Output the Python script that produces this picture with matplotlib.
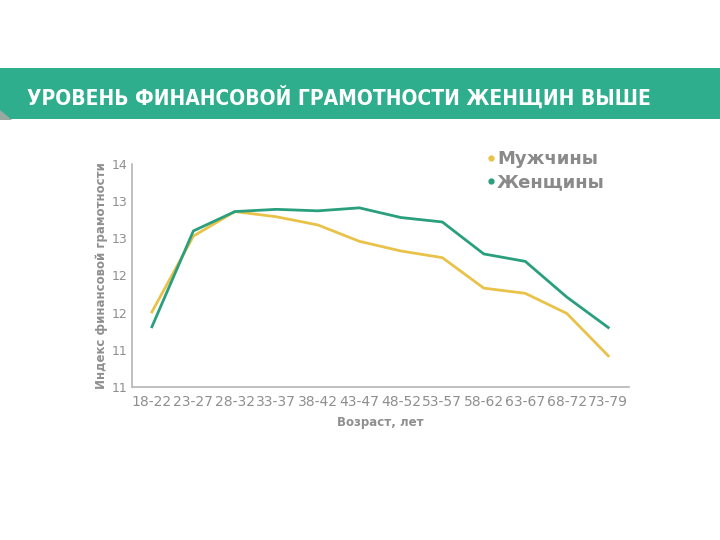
import matplotlib
matplotlib.use("Agg")
import matplotlib.pyplot as plt
from matplotlib.patches import Rectangle, Polygon
from matplotlib.lines import Line2D

# data
age_groups = ['18-22', '23-27', '28-32', '33-37', '38-42', '43-47',
              '48-52', '53-57', '58-62', '63-67', '68-72', '73-79']
men = [12.01, 13.03, 13.36, 13.29, 13.18, 12.96,
       12.83, 12.74, 12.33, 12.26, 11.99, 11.42]
women = [11.81, 13.10, 13.36, 13.39, 13.37, 13.41,
         13.28, 13.22, 12.79, 12.69, 12.21, 11.80]
y_ticks = [11, 11.5, 12, 12.5, 13, 13.5, 14]
y_tick_labels = ['11', '11', '12', '12', '13', '13', '14']

title = 'УРОВЕНЬ ФИНАНСОВОЙ ГРАМОТНОСТИ ЖЕНЩИН ВЫШЕ'
grey = '#8f8f8f'
c_men = '#e9c24a'
c_women = '#2a9f7d'

fig = plt.figure(figsize=(7.2, 5.4), dpi=100)
W, H = 720, 540

# green banner with the title
fig.patches.append(Rectangle((0, 1 - 119 / H), 1, 51 / H, transform=fig.transFigure,
                             facecolor='#2eae8c', edgecolor='none'))
fig.patches.append(Polygon([(0, 1 - 110 / H), (12 / W, 1 - 120 / H), (0, 1 - 120 / H)],
                           closed=True, transform=fig.transFigure,
                           facecolor='#9aa8a2', edgecolor='none'))
ttl = fig.text(27 / W, 1 - 97 / H, title, color='white', fontsize=16, fontweight='bold',
               fontstretch='condensed', va='center', ha='left')
# shrink the title so it spans the same width as in the reference (27..652 px)
r = fig.canvas.get_renderer()
w = ttl.get_window_extent(r).width
ttl.set_fontsize(min(17, 16 * 625 / w))

ax = fig.add_axes([132 / W, 1 - 387 / H, (629 - 132) / W, (387 - 164) / H])
x = list(range(len(age_groups)))
ax.plot(x, men, color=c_men, lw=2.0, solid_joinstyle='round')
ax.plot(x, women, color=c_women, lw=2.0, solid_joinstyle='round')

ax.set_xlim(-0.48, 11.5)
ax.set_ylim(11, 14)
ax.set_xticks(x)
ax.set_xticklabels(age_groups)
ax.set_yticks(y_ticks)
ax.set_yticklabels(y_tick_labels)
ax.tick_params(length=0, labelcolor=grey)
ax.tick_params(axis='x', pad=6, labelsize=10)
ax.tick_params(axis='y', pad=3, labelsize=9)
for s in ['top', 'right']:
    ax.spines[s].set_visible(False)
for s in ['left', 'bottom']:
    ax.spines[s].set_color('#b5b5b5')
    ax.spines[s].set_linewidth(1.2)

ax.set_xlabel('Возраст, лет', color=grey, fontsize=8.5, fontweight='bold', labelpad=5)
ax.set_ylabel('Индекс финансовой грамотности', color=grey, fontsize=8.5,
              fontweight='bold', labelpad=3)

handles = [Line2D([], [], color=c_men, marker='o', ls='', markersize=3.5),
           Line2D([], [], color=c_women, marker='o', ls='', markersize=3.5)]
leg = fig.legend(handles, ['Мужчины', 'Женщины'], loc='upper left',
                 bbox_to_anchor=(487 / W, 1 - 150 / H), frameon=False,
                 handlelength=0.4, handletextpad=0.15, labelspacing=0.3,
                 borderpad=0, borderaxespad=0,
                 prop={'weight': 'bold', 'size': 13})
for t in leg.get_texts():
    t.set_color('#8a8a8a')

fig.savefig('out.png', dpi=100)
